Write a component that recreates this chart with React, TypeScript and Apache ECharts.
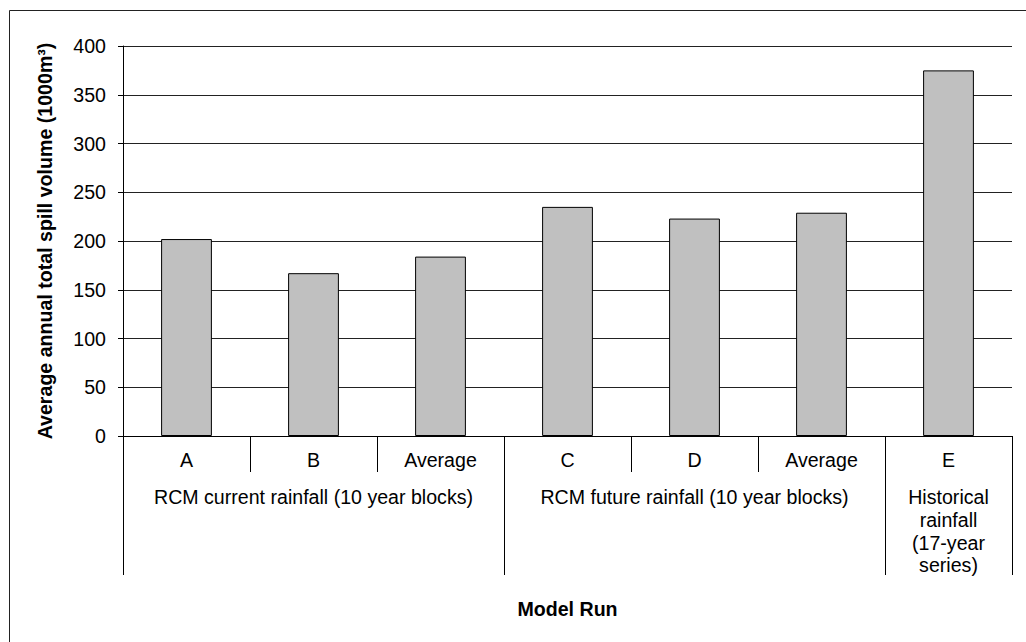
import React, { useEffect, useRef } from "react";
import * as echarts from "echarts";

const runLabels = ["A", "B", "Average", "C", "D", "Average", "E"];
const groupLabels = [
  "",
  "RCM current rainfall (10 year blocks)",
  "",
  "",
  "RCM future rainfall (10 year blocks)",
  "",
  "Historical\nrainfall\n(17-year\nseries)",
];
const groupBoundaries = [0, 3, 6];
const spillValues = [202, 167, 184, 235, 223, 229, 375];
const yTicks = { min: 0, max: 400, interval: 50 };

const FONT = "'Liberation Sans', Arial, sans-serif";
const FS = 19.6;

export default function App() {
  const ref = useRef<HTMLDivElement>(null);
  useEffect(() => {
    if (!ref.current) return;
    const chart = echarts.init(ref.current, null, { renderer: "svg" });
    chart.setOption({
      animation: false,
      backgroundColor: "#fff",
      textStyle: { fontFamily: FONT },
      grid: { left: 123, right: 14, top: 46, bottom: 206, containLabel: false },
      graphic: [
        {
          type: "rect",
          shape: { x: 9.5, y: 10.5, width: 1200, height: 800 },
          style: { fill: "none", stroke: "#222", lineWidth: 1 },
          silent: true,
        },
      ],
      xAxis: [
        {
          type: "category",
          position: "bottom",
          data: runLabels,
          axisLine: { show: true, lineStyle: { color: "#000", width: 1 } },
          axisTick: { show: true, length: 36, interval: 0, alignWithLabel: false, lineStyle: { color: "#000" } },
          axisLabel: { interval: 0, margin: 14, color: "#000", fontSize: FS, fontFamily: FONT },
          splitLine: { show: false },
        },
        {
          type: "category",
          position: "bottom",
          offset: 0,
          data: groupLabels,
          axisLine: { show: false },
          axisTick: {
            show: true,
            length: 139,
            alignWithLabel: false,
            interval: (index: number) => groupBoundaries.indexOf(index) >= 0,
            lineStyle: { color: "#000" },
          },
          axisLabel: {
            interval: 0,
            margin: 50,
            color: "#000",
            fontSize: FS,
            lineHeight: 22.7,
            fontFamily: FONT,
            align: "center",
          },
          name: "Model Run",
          nameLocation: "middle",
          nameGap: 163,
          nameTextStyle: { fontWeight: "bold", fontSize: FS, color: "#000", fontFamily: FONT },
          splitLine: { show: false },
        },
      ],
      yAxis: {
        type: "value",
        min: yTicks.min,
        max: yTicks.max,
        interval: yTicks.interval,
        axisLine: { show: true, lineStyle: { color: "#000", width: 1 } },
        axisTick: { show: true, length: 5, inside: false, lineStyle: { color: "#000" } },
        axisLabel: { margin: 17, color: "#000", fontSize: FS, fontFamily: FONT },
        splitLine: { show: true, lineStyle: { color: "#222", width: 1 } },
        name: "Average annual total spill volume (1000m³)",
        nameLocation: "middle",
        nameGap: 68,
        nameTextStyle: { fontWeight: "bold", fontSize: FS, color: "#000", fontFamily: FONT },
      },
      series: [
        {
          type: "bar",
          xAxisIndex: 0,
          data: spillValues,
          barWidth: "40%",
          itemStyle: { color: "#C0C0C0", borderColor: "#000", borderWidth: 1 },
          emphasis: { disabled: true },
        },
      ],
    });
    return () => chart.dispose();
  }, []);
  return (
    <div
      ref={ref}
      style={{ position: "fixed", left: 0, top: 0, width: 1026, height: 642 }}
    />
  );
}
